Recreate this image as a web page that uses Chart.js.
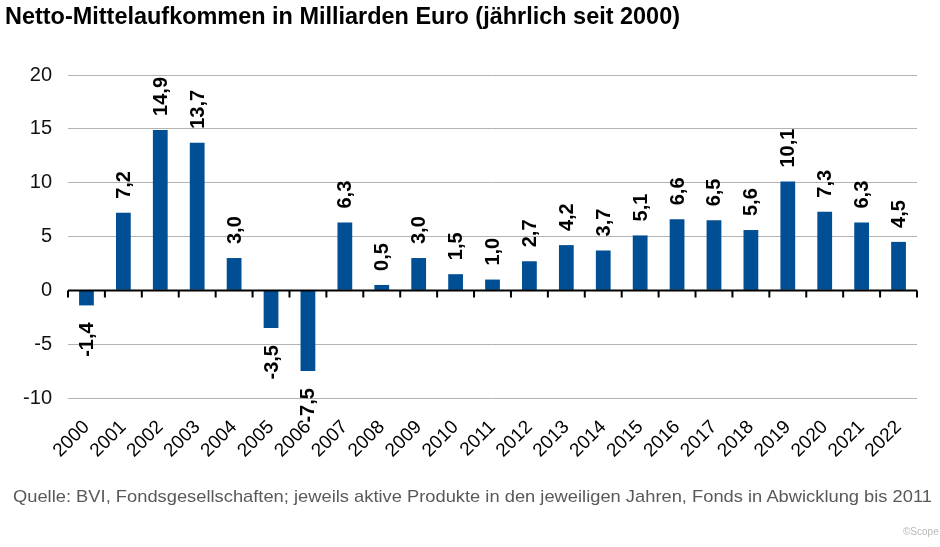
<!DOCTYPE html>
<html>
<head>
<meta charset="utf-8">
<script src="https://cdn.jsdelivr.net/npm/chart.js@4"></script>
<style>
  html, body { margin: 0; padding: 0; background: #fff; width: 940px; height: 547px; overflow: hidden; }
  #wrap { position: absolute; left: 0; top: 0; width: 940px; height: 547px; }
  .txt { position: absolute; white-space: nowrap; font-family: "Liberation Sans", Arial, sans-serif; transform-origin: 0 0; }
  #title { left: 5px; top: 2px; font-size: 24px; font-weight: bold; color: #000; }
  #source { left: 13px; top: 487px; font-size: 17px; color: #595959; }
  #mark { left: 903px; top: 526px; font-size: 10px; color: #b8b8b8; }
</style>
</head>
<body>
<div id="wrap"><canvas id="c" width="940" height="547"></canvas></div>
<div class="txt" id="title">Netto-Mittelaufkommen in Milliarden Euro (jährlich seit 2000)</div>
<div class="txt" id="source">Quelle: BVI, Fondsgesellschaften; jeweils aktive Produkte in den jeweiligen Jahren, Fonds in Abwicklung bis 2011</div>
<div class="txt" id="mark">©Scope</div>
<script>
const years = ["2000","2001","2002","2003","2004","2005","2006","2007","2008","2009","2010","2011","2012","2013","2014","2015","2016","2017","2018","2019","2020","2021","2022"];
const values = [-1.4, 7.2, 14.9, 13.7, 3.0, -3.5, -7.5, 6.3, 0.5, 3.0, 1.5, 1.0, 2.7, 4.2, 3.7, 5.1, 6.6, 6.5, 5.6, 10.1, 7.3, 6.3, 4.5];
const yTicks = [-10, -5, 0, 5, 10, 15, 20];

function fitWidth(id, w) {
  const el = document.getElementById(id);
  const cur = el.getBoundingClientRect().width;
  el.style.transform = 'scaleX(' + (w / cur) + ')';
}
fitWidth('title', 675);
fitWidth('source', 919);

const FONT = '"Liberation Sans", Arial, sans-serif';

const zeroAxis = {
  id: 'zeroAxis',
  afterDatasetsDraw(chart) {
    const ctx = chart.ctx, x = chart.scales.x, y = chart.scales.y, a = chart.chartArea;
    const y0 = Math.round(y.getPixelForValue(0)) + 0.5;
    ctx.save();
    ctx.strokeStyle = '#000';
    ctx.lineWidth = 2;
    ctx.beginPath();
    ctx.moveTo(a.left, y0); ctx.lineTo(a.right, y0);
    const n = years.length;
    for (let i = 0; i <= n; i++) {
      let px;
      if (i === 0) px = a.left;
      else if (i === n) px = a.right;
      else px = (x.getPixelForValue(i - 1) + x.getPixelForValue(i)) / 2;
      ctx.moveTo(px, y0); ctx.lineTo(px, y0 + 7);
    }
    ctx.stroke();
    ctx.restore();
  }
};

const valueLabels = {
  id: 'valueLabels',
  afterDatasetsDraw(chart) {
    const ctx = chart.ctx, x = chart.scales.x, y = chart.scales.y;
    ctx.save();
    ctx.font = 'bold 20px ' + FONT;
    ctx.fillStyle = '#000';
    ctx.textBaseline = 'middle';
    values.forEach((v, i) => {
      const px = x.getPixelForValue(i);
      const py = y.getPixelForValue(v);
      const txt = v.toFixed(1).replace('.', ',');
      ctx.save();
      ctx.translate(px, v >= 0 ? py - 14 : py + 17);
      ctx.rotate(-Math.PI / 2);
      ctx.textAlign = v >= 0 ? 'left' : 'right';
      ctx.fillText(txt, 0, 1);
      ctx.restore();
    });
    ctx.restore();
  }
};

new Chart(document.getElementById('c'), {
  type: 'bar',
  data: {
    labels: years,
    datasets: [{
      data: values,
      backgroundColor: '#004e93',
      borderWidth: 0,
      barPercentage: 0.4,
      categoryPercentage: 1.0
    }]
  },
  options: {
    responsive: false,
    animation: false,
    layout: { padding: { left: 0, right: 23, top: 75, bottom: 74 } },
    plugins: { legend: { display: false }, tooltip: { enabled: false }, title: { display: false } },
    scales: {
      x: {
        grid: { display: false, drawTicks: false },
        border: { display: false },
        ticks: {
          color: '#000', font: { family: FONT, size: 19 },
          maxRotation: 45, minRotation: 45, padding: 18, autoSkip: false
        },
        afterFit(s) { s.height = 75; }
      },
      y: {
        min: -10, max: 20,
        afterBuildTicks(s) { s.ticks = yTicks.map(v => ({ value: v })); },
        grid: { color: '#b3b3b3', lineWidth: 1, drawTicks: false },
        border: { display: false },
        ticks: { color: '#111', font: { family: FONT, size: 20 }, padding: 16 },
        afterFit(s) { s.width = 68; }
      }
    }
  },
  plugins: [zeroAxis, valueLabels]
});
</script>
</body>
</html>
